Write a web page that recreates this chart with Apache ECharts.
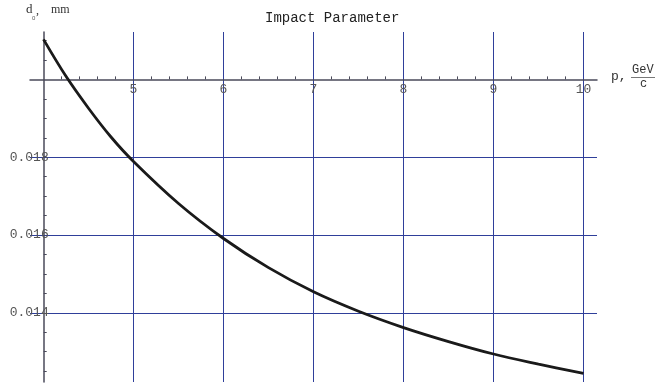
<!DOCTYPE html>
<html>
<head>
<meta charset="utf-8">
<script src="https://cdn.jsdelivr.net/npm/echarts@6/dist/echarts.min.js"></script>
<style>
html,body{margin:0;padding:0;background:#fff;}
#chart{width:659px;height:385px;}
</style>
</head>
<body>
<div id="chart"></div>
<script>
// Data
const pValues = [4, 4.25, 4.5, 4.75, 5, 5.5, 6, 6.5, 7, 7.5, 8, 8.5, 9, 9.5, 10];
const d0Values = [0.02103, 0.02008, 0.01926, 0.01852, 0.01789, 0.01681, 0.01591, 0.01516, 0.01454, 0.01404, 0.01362, 0.01326, 0.01294, 0.01268, 0.01244];
const xTickLabels = [5, 6, 7, 8, 9, 10];
const yTickLabels = [0.014, 0.016, 0.018];
const xMinorTicks = [4.2,4.4,4.6,4.8,5.2,5.4,5.6,5.8,6.2,6.4,6.6,6.8,7.2,7.4,7.6,7.8,8.2,8.4,8.6,8.8,9.2,9.4,9.6,9.8];
const yMinorTicks = [0.0125,0.013,0.0135,0.0145,0.015,0.0155,0.0165,0.017,0.0175,0.0185,0.019,0.0195,0.0205,0.021];
const xRange = [3.85, 10.15];
const yRange = [0.01222, 0.02122];

const FONT = 'Liberation Mono';
const gridColor = '#2f3f9a';
const axisColor = '#4a4a5a';

const chart = echarts.init(document.getElementById('chart'), null, {renderer: 'canvas'});

const seriesData = pValues.map((p, i) => [p, d0Values[i]]);

const gridAxisX = {
  type: 'value', gridIndex: 0, min: xRange[0], max: xRange[1],
  axisLine: {show: false}, axisLabel: {show: false},
  axisTick: {show: false, customValues: xTickLabels},
  splitLine: {show: true, lineStyle: {color: gridColor, width: 1, type: 'solid'}}
};
const gridAxisY = {
  type: 'value', gridIndex: 0, min: yRange[0], max: yRange[1],
  axisLine: {show: false}, axisLabel: {show: false},
  axisTick: {show: false, customValues: yTickLabels},
  splitLine: {show: true, lineStyle: {color: gridColor, width: 1, type: 'solid'}}
};
const hiddenX = (gi) => ({type: 'value', gridIndex: gi, min: xRange[0], max: xRange[1], show: false});
const hiddenY = (gi) => ({type: 'value', gridIndex: gi, min: yRange[0], max: yRange[1], show: false});

chart.setOption({
  animation: false,
  backgroundColor: '#ffffff',
  grid: [
    {left: 30, right: 62, top: 32, bottom: 3},              // main plot
    {left: 30, right: 62, top: 32, height: 47.4},           // x axis (at d0 = 0.02)
    {left: 43.7, width: 60, top: 32, bottom: 3}             // y axis (at p = 4)
  ],
  xAxis: [
    gridAxisX,
    {
      type: 'value', gridIndex: 1, min: xRange[0], max: xRange[1], position: 'bottom',
      splitLine: {show: false},
      axisLine: {show: true, lineStyle: {color: axisColor, width: 1.5}},
      axisTick: {show: true, inside: true, length: 3, customValues: xMinorTicks, lineStyle: {color: axisColor, width: 1}},
      axisLabel: {show: true, customValues: xTickLabels, margin: 4, color: '#555', fontFamily: FONT, fontSize: 13, formatter: v => String(v)}
    },
    hiddenX(2)
  ],
  yAxis: [
    gridAxisY,
    hiddenY(1),
    {
      type: 'value', gridIndex: 2, min: yRange[0], max: yRange[1], position: 'left',
      splitLine: {show: false},
      axisLine: {show: true, lineStyle: {color: axisColor, width: 1.5}},
      axisTick: {show: true, inside: true, length: 3, customValues: yMinorTicks, lineStyle: {color: axisColor, width: 1}},
      axisLabel: {show: true, customValues: yTickLabels, margin: -5, color: '#555', fontFamily: FONT, fontSize: 13, formatter: v => v.toFixed(3)}
    }
  ],
  series: [
    {
      type: 'line',
      xAxisIndex: 0, yAxisIndex: 0,
      data: seriesData,
      smooth: 0.35,
      symbol: 'none',
      color: '#1a1a1a',
      z: 5,
      lineStyle: {color: '#1a1a1a', width: 2.8}
    }
  ],
  graphic: [
    {type: 'text', left: 265, top: 11, style: {text: 'Impact Parameter', font: '14px "Liberation Mono"', fill: '#222'}},
    {type: 'text', left: 26, top: 3, style: {text: 'd', font: '13px "Liberation Serif"', fill: '#333'}},
    {type: 'text', left: 32, top: 15, style: {text: '0', font: '6px "Liberation Sans"', fill: '#555'}},
    {type: 'text', left: 36, top: 5, style: {text: ',', font: '12px "Liberation Serif"', fill: '#333'}},
    {type: 'text', left: 51, top: 4, style: {text: 'mm', font: '12px "Liberation Serif"', fill: '#333'}},
    {type: 'text', left: 611, top: 70, style: {text: 'p,', font: '13px "Liberation Mono"', fill: '#333'}},
    {type: 'text', left: 632, top: 64, style: {text: 'GeV', font: '12px "Liberation Mono"', fill: '#333'}},
    {type: 'line', shape: {x1: 631, y1: 77.5, x2: 655, y2: 77.5}, style: {stroke: '#555', lineWidth: 0.8}},
    {type: 'text', left: 640, top: 78, style: {text: 'c', font: '12px "Liberation Mono"', fill: '#333'}}
  ]
});
</script>
</body>
</html>
